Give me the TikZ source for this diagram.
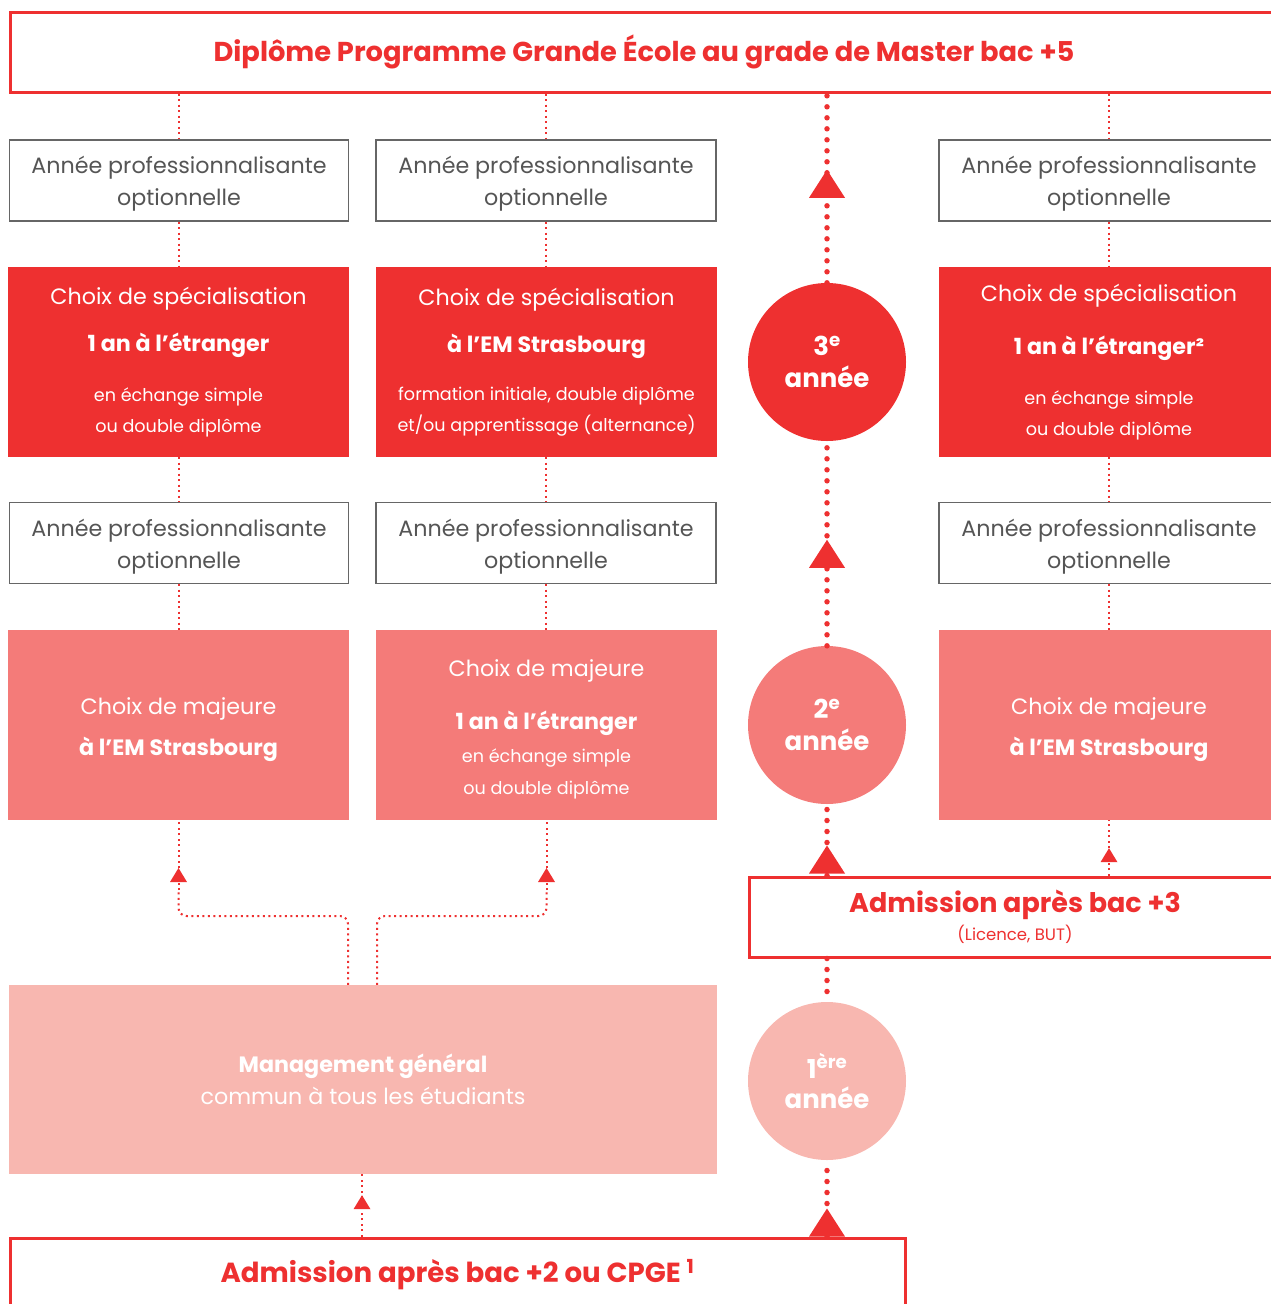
\documentclass[tikz,border=0pt]{standalone}
\usepackage{fontspec}
\setmainfont{Poppins}
\usetikzlibrary{decorations.markings}
\definecolor{emred}{HTML}{EE3030}
\definecolor{empink}{HTML}{F47B79}
\definecolor{emlight}{HTML}{F8B7B0}
\definecolor{greyline}{HTML}{666666}
\definecolor{greytext}{HTML}{555555}
\tikzset{
  redframe/.style={draw=emred, line width=3pt, fill=white, text=emred, align=center, inner sep=0pt},
  greybox/.style={draw=greyline, line width=1.2pt, fill=white, text=greytext, align=center,
    font=\fontsize{22.2}{32}\selectfont, minimum width=339pt, minimum height=81pt, inner sep=0pt},
  redbox/.style={fill=emred, text=white, align=center, font=\fontsize{22.2}{31}\selectfont,
    minimum width=341pt, minimum height=190pt, inner sep=0pt},
  pinkbox/.style={fill=empink, text=white, align=center, font=\fontsize{22.2}{31}\selectfont,
    minimum width=341pt, minimum height=190pt, inner sep=0pt},
  yearcircle/.style={circle, minimum size=158pt, inner sep=0pt, text=white, align=center,
    font=\bfseries\fontsize{26}{32}\selectfont},
  thindot/.style={draw=emred, line width=2pt, dash pattern=on 2pt off 3.5pt},
  bigdot/.style={draw=emred, line width=5.5pt, line cap=round, dash pattern=on 0pt off 11pt},
  bigtri/.style={postaction=decorate, decoration={markings, mark=at position #1 with
    {\fill[emred] (0pt,0pt) -- (-28pt,18pt) -- (-28pt,-18pt) -- cycle;}}},
  smalltri/.style={postaction=decorate, decoration={markings, mark=at position #1 with
    {\fill[emred] (0pt,0pt) -- (-14pt,8.5pt) -- (-14pt,-8.5pt) -- cycle;}}}
}
\newcommand{\sm}[1]{{\fontsize{17.6}{20}\selectfont #1}}
\begin{document}
\begin{tikzpicture}[x=1pt, y=-1pt]
\useasboundingbox (0,0) rectangle (1271,1304);
\clip (0,0) rectangle (1271,1304);

% banners and frames
\node[redframe, minimum width=1268pt, minimum height=80pt, font=\bfseries\fontsize{27.3}{30}\selectfont]
  (top) at (644,52) {Diplôme Programme Grande École au grade de Master bac +5};

% column 1
\node[greybox] (g1a) at (179,180.5) {\rule{0pt}{24pt}Année professionnalisante\\optionnelle};
\node[redbox]  (r1)  at (178.5,362) {Choix de spécialisation\\[16pt]\textbf{1 an à l’étranger}\\[19pt]\sm{en échange simple}\\\sm{ou double diplôme}};
\node[greybox] (g1b) at (179,543) {\rule{0pt}{24pt}Année professionnalisante\\optionnelle};
\node[pinkbox] (p1)  at (178.5,725) {\rule{0pt}{26pt}Choix de majeure\\[10pt]\textbf{à l’EM Strasbourg}};

% column 2
\node[greybox, minimum width=340pt] (g2a) at (546,180.5) {\rule{0pt}{24pt}Année professionnalisante\\optionnelle};
\node[redbox]  (r2)  at (546.5,362) {Choix de spécialisation\\[16pt]\textbf{à l’EM Strasbourg}\\[17pt]\sm{formation initiale, double diplôme}\\\sm{et/ou apprentissage (alternance)}};
\node[greybox, minimum width=340pt] (g2b) at (546,543) {\rule{0pt}{24pt}Année professionnalisante\\optionnelle};
\node[pinkbox] (p2)  at (546.5,725) {\rule{0pt}{26pt}Choix de majeure\\[22pt]\textbf{1 an à l’étranger}\\[2pt]\sm{en échange simple}\\[1pt]\sm{ou double diplôme}};

% column 4
\node[greybox, minimum width=340pt] (g4a) at (1109,180.5) {\rule{0pt}{24pt}Année professionnalisante\\optionnelle};
\node[redbox, minimum width=340pt]  (r4)  at (1109,362) {Choix de spécialisation\\[22pt]\textbf{1 an à l’étranger²}\\[19pt]\sm{en échange simple}\\\sm{ou double diplôme}};
\node[greybox, minimum width=340pt] (g4b) at (1109,543) {\rule{0pt}{24pt}Année professionnalisante\\optionnelle};
\node[pinkbox, minimum width=340pt] (p4)  at (1109,725) {\rule{0pt}{26pt}Choix de majeure\\[10pt]\textbf{à l’EM Strasbourg}};

% admission bac+3
\node[redframe, minimum width=532pt, minimum height=80pt] (bac3) at (1015,917)
  {{\bfseries\fontsize{27}{31}\selectfont Admission après bac +3}\\[4pt]{\fontsize{16.5}{20}\selectfont (Licence, BUT)}};

% management general
\node[fill=emlight, text=white, align=center, font=\fontsize{22.2}{32}\selectfont,
  minimum width=708pt, minimum height=189pt, inner sep=0pt] (mg) at (363,1079.5)
  {\textbf{Management général}\\commun à tous les étudiants};

% bottom banner
\node[redframe, minimum width=895pt, minimum height=74pt, font=\bfseries\fontsize{27.6}{30}\selectfont]
  (bot) at (457.5,1275) {Admission après bac +2 ou CPGE \textsuperscript{1}};

% year circles
\node[yearcircle, fill=emred]   (c3) at (827,362)  {3\textsuperscript{e}\\année};
\node[yearcircle, fill=empink]  (c2) at (827,725)  {2\textsuperscript{e}\\année};
\node[yearcircle, fill=emlight] (c1) at (827,1081) {1\textsuperscript{ère}\\[-2pt]année};

% thin dotted connectors, columns
\foreach \g/\r/\h/\p in {g1a/r1/g1b/p1, g2a/r2/g2b/p2, g4a/r4/g4b/p4}{
  \draw[thindot] (\g.north |- top.south) -- (\g.north);
  \draw[thindot] (\g.south) -- (\g.south |- \r.north);
  \draw[thindot] (\r.south -| \h.north) -- (\h.north);
  \draw[thindot] (\h.south) -- (\h.south |- \p.north);
}

% management to majors
\coordinate (m1) at ([xshift=-15pt]mg.north);
\coordinate (m2) at ([xshift=14pt]mg.north);
\coordinate (k1) at (p1.south |- 0,890);
\coordinate (k2) at (p2.south |- 0,890);
\draw[thindot, rounded corners=8pt] (m1) -- (m1 |- 0,916) -- (k1 |- 0,916) -- (k1);
\draw[thindot, smalltri=22pt] (k1) -- (p1.south);
\draw[thindot, rounded corners=8pt] (m2) -- (m2 |- 0,916) -- (k2 |- 0,916) -- (k2);
\draw[thindot, smalltri=22pt] (k2) -- (p2.south);

% admissions to boxes
\draw[thindot, smalltri=-28pt] (bac3.north -| p4.south) -- (p4.south);
\draw[thindot, smalltri=-21pt] (bot.north -| 362,0) -- (mg.south -| 362,0);

% central spine
\draw[bigdot, bigtri=113pt] (c3.north) -- (c3.north |- top.south);
\draw[bigdot, bigtri=106pt] (c2.north) -- (c3.south);
\draw[bigdot, bigtri=30pt] (bac3.north -| c2.south) -- (c2.south);
\draw[bigdot] (bac3.south -| c1.north) -- (c1.north);
\draw[bigdot, bigtri=28pt] (bot.north -| c1.south) -- (c1.south);
\end{tikzpicture}
\end{document}
